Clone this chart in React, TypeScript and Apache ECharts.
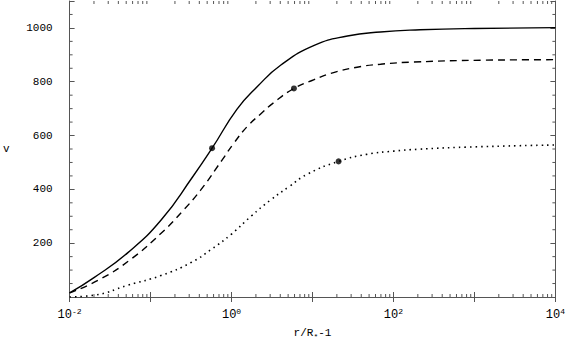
import React, { useEffect, useRef } from "react";
import * as echarts from "echarts";

// Curve data (x = r/R*-1, v)
const solidX = [0.01, 0.02, 0.0525, 0.135, 0.33, 0.575, 1.17, 2.1, 4.07, 10.5, 27, 69, 214, 1000, 10000];
const solidV = [15, 72, 165, 286, 446, 553, 698, 783, 862, 935, 970, 985, 993, 998, 1001];

const dashedX = [0.01, 0.0245, 0.0575, 0.135, 0.25, 0.417, 0.76, 1.07, 1.58, 2.29, 3.31, 5.9, 10.5, 18.2, 35.5, 69, 176, 1260, 10000];
const dashedV = [15, 68, 141, 237, 320, 398, 508, 572, 635, 680, 722, 775, 808, 834, 854, 865, 873, 880, 882];

const dottedX = [0.01, 0.0204, 0.0525, 0.135, 0.316, 0.562, 1.0, 1.74, 3.02, 5.13, 8.6, 21, 46.8, 100, 200, 794, 10000];
const dottedV = [0, 7, 44, 80, 128, 177, 234, 300, 360, 410, 456, 504, 530, 542, 549, 557, 565];

// Marked points
const dotX = [0.575, 5.9, 21];
const dotV = [553, 775, 504];

// Axis ticks
const xMinorTicks = [
  0.02, 0.03, 0.04, 0.05, 0.06, 0.07, 0.08, 0.09,
  0.2, 0.3, 0.4, 0.5, 0.6, 0.7, 0.8, 0.9,
  2, 3, 4, 5, 6, 7, 8, 9,
  20, 30, 40, 50, 60, 70, 80, 90,
  200, 300, 400, 500, 600, 700, 800, 900,
  2000, 3000, 4000, 5000, 6000, 7000, 8000, 9000,
];
const yMinorTicks = [50, 100, 150, 250, 300, 350, 450, 500, 550, 650, 700, 750, 850, 900, 950, 1050];
const yLabels = [200, 400, 600, 800, 1000];
const xLabelExps = [-2, 0, 2, 4];

const FONT = "Liberation Mono";
const AXIS = "#555";

function zip(xs: number[], ys: number[]) {
  return xs.map((x, i) => [x, ys[i]]);
}

export default function App() {
  const ref = useRef<HTMLDivElement>(null);
  useEffect(() => {
    if (!ref.current) return;
    const chart = echarts.init(ref.current, undefined, { renderer: "svg" });
    const rich = {
      b: { fontSize: 12, fontFamily: FONT, color: "#000" },
      s: { fontSize: 8, fontFamily: FONT, color: "#000", padding: [0, 0, 7, 0] },
    };
    const lineStyleTick = { color: AXIS, width: 1 };
    const lineCommon = { smooth: 0.5, showSymbol: false };
    chart.setOption({
      animation: false,
      grid: { left: 68, right: 12, top: 1, bottom: 43 },
      xAxis: [
        {
          type: "log",
          logBase: 10,
          min: 0.01,
          max: 10000,
          position: "bottom",
          axisLine: { lineStyle: { color: AXIS, width: 1 } },
          axisTick: { inside: true, length: 5, lineStyle: lineStyleTick },
          splitLine: { show: false },
          axisLabel: {
            margin: 10,
            showMaxLabel: true,
            formatter: (v: number) => {
              const e = Math.round(Math.log10(v));
              return xLabelExps.includes(e) ? `{b|10}{s|${e}}` : "";
            },
            rich,
          },
          name: "r/R{s|*}-1",
          nameLocation: "middle",
          nameGap: 29,
          nameTextStyle: {
            fontSize: 11,
            fontFamily: FONT,
            color: "#000",
            rich: { s: { fontSize: 8, fontFamily: FONT, color: "#000", padding: [6, 0, 0, 0] } },
          },
        },
        {
          type: "log",
          logBase: 10,
          min: 0.01,
          max: 10000,
          position: "top",
          axisLine: { lineStyle: { color: AXIS, width: 1 } },
          axisTick: { inside: true, length: 5, lineStyle: lineStyleTick },
          axisLabel: { show: false },
          splitLine: { show: false },
        },
      ],
      yAxis: [
        {
          type: "value",
          min: 0,
          max: 1100,
          interval: 200,
          position: "left",
          axisLine: { show: true, lineStyle: { color: AXIS, width: 1 } },
          axisTick: { show: true, inside: true, length: 5, lineStyle: lineStyleTick },
          splitLine: { show: false },
          axisLabel: {
            margin: 17,
            fontSize: 11,
            fontFamily: FONT,
            color: "#000",
            formatter: (v: number) => (yLabels.includes(v) ? String(v) : ""),
          },
          name: "v",
          nameLocation: "middle",
          nameRotate: 0,
          nameGap: 60,
          nameTextStyle: { fontSize: 11, fontFamily: FONT, color: "#000" },
        },
        {
          type: "value",
          min: 0,
          max: 1100,
          interval: 200,
          position: "right",
          axisLine: { show: true, lineStyle: { color: AXIS, width: 1 } },
          axisTick: { show: true, inside: true, length: 5, lineStyle: lineStyleTick },
          axisLabel: { show: false },
          splitLine: { show: false },
        },
      ],
      series: [
        {
          type: "line",
          data: zip(solidX, solidV),
          ...lineCommon,
          lineStyle: { color: "#000", width: 1.4, type: "solid" },
        },
        {
          type: "line",
          data: zip(dashedX, dashedV),
          ...lineCommon,
          lineStyle: { color: "#000", width: 1.4, type: [7, 5] },
        },
        {
          type: "line",
          data: zip(dottedX, dottedV),
          ...lineCommon,
          lineStyle: { color: "#000", width: 1.6, type: [1.5, 4] },
        },
        {
          type: "scatter",
          data: zip(dotX, dotV),
          symbolSize: 6,
          itemStyle: { color: "#000" },
        },
        {
          type: "custom",
          silent: true,
          clip: false,
          data: xMinorTicks.map((x) => [x, 0]),
          renderItem: (params: any, api: any) => {
            const cs = params.coordSys;
            const px = api.coord([api.value(0), 0])[0];
            const bottom = cs.y + cs.height;
            return {
              type: "group",
              children: [
                { type: "line", shape: { x1: px, y1: bottom, x2: px, y2: bottom - 3 }, style: { stroke: AXIS, lineWidth: 1 } },
                { type: "line", shape: { x1: px, y1: cs.y, x2: px, y2: cs.y + 3 }, style: { stroke: AXIS, lineWidth: 1 } },
              ],
            };
          },
        },
        {
          type: "custom",
          silent: true,
          clip: false,
          data: yMinorTicks.map((y) => [1, y]),
          renderItem: (params: any, api: any) => {
            const cs = params.coordSys;
            const py = api.coord([1, api.value(1)])[1];
            const right = cs.x + cs.width;
            return {
              type: "group",
              children: [
                { type: "line", shape: { x1: cs.x, y1: py, x2: cs.x + 3, y2: py }, style: { stroke: AXIS, lineWidth: 1 } },
                { type: "line", shape: { x1: right, y1: py, x2: right - 3, y2: py }, style: { stroke: AXIS, lineWidth: 1 } },
              ],
            };
          },
        },
      ],
    });
    return () => chart.dispose();
  }, []);
  return (
    <div
      ref={ref}
      style={{ position: "absolute", left: 0, top: 0, width: 568, height: 345 }}
    />
  );
}
